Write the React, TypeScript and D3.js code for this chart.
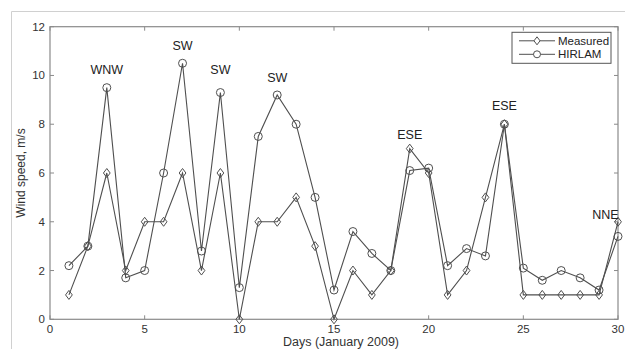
import { useEffect, useRef } from 'react';
import * as d3 from 'd3';

const days = d3.range(1, 31);
const measured = [1, 3, 6, 2, 4, 4, 6, 2, 6, 0, 4, 4, 5, 3, 0, 2, 1, 2, 7, 6, 1, 2, 5, 8, 1, 1, 1, 1, 1, 4];
const hirlam = [2.2, 3, 9.5, 1.7, 2, 6, 10.5, 2.8, 9.3, 1.3, 7.5, 9.2, 8, 5, 1.2, 3.6, 2.7, 2, 6.1, 6.2, 2.2, 2.9, 2.6, 8, 2.1, 1.6, 2, 1.7, 1.2, 3.4];
const xTicks = [0, 5, 10, 15, 20, 25, 30];
const yTicks = [0, 2, 4, 6, 8, 10, 12];

// wind direction labels: [day, y-value of text baseline, label]
const directions: [number, number, string][] = [
  [3, 10.08, 'WNW'],
  [7, 11.04, 'SW'],
  [9, 10.04, 'SW'],
  [12, 9.75, 'SW'],
  [19, 7.41, 'ESE'],
  [24, 8.6, 'ESE'],
  [29.34, 4.11, 'NNE'],
];

export default function App() {
  const svgRef = useRef<SVGSVGElement>(null);
  const width = 625;
  const height = 349;
  const margin = { top: 26.7, right: 7, bottom: 29.7, left: 50 };

  useEffect(() => {
    if (!svgRef.current) return;
    const svg = d3.select(svgRef.current);
    svg.selectAll('*').remove();

    const innerW = width - margin.left - margin.right;
    const innerH = height - margin.top - margin.bottom;
    const x = d3.scaleLinear().domain([0, 30]).range([0, innerW]);
    const y = d3.scaleLinear().domain([0, 12]).range([innerH, 0]);

    const font = 'Liberation Sans, Arial, sans-serif';
    const axisColor = '#8a8a8a';
    const lineColor = '#4f4f4f';

    // outer figure frame
    svg.append('path')
      .attr('d', `M11.5,${height} V11.5 H${width}`)
      .attr('fill', 'none')
      .attr('stroke', '#d0d0d0')
      .attr('stroke-width', 1);

    const g = svg.append('g').attr('transform', `translate(${margin.left},${margin.top})`);

    // plot box
    g.append('rect')
      .attr('width', innerW)
      .attr('height', innerH)
      .attr('fill', '#fff')
      .attr('stroke', axisColor)
      .attr('stroke-width', 1.2);

    // inward ticks on all sides
    const tl = 4;
    xTicks.forEach(t => {
      g.append('line').attr('x1', x(t)).attr('x2', x(t)).attr('y1', innerH).attr('y2', innerH - tl)
        .attr('stroke', axisColor);
      g.append('line').attr('x1', x(t)).attr('x2', x(t)).attr('y1', 0).attr('y2', tl)
        .attr('stroke', axisColor);
      g.append('text')
        .attr('x', x(t))
        .attr('y', innerH + 14)
        .attr('text-anchor', 'middle')
        .style('font-family', font)
        .style('font-size', '11.5px')
        .style('fill', '#333')
        .text(t);
    });
    yTicks.forEach(t => {
      g.append('line').attr('x1', 0).attr('x2', tl).attr('y1', y(t)).attr('y2', y(t))
        .attr('stroke', axisColor);
      g.append('line').attr('x1', innerW).attr('x2', innerW - tl).attr('y1', y(t)).attr('y2', y(t))
        .attr('stroke', axisColor);
      g.append('text')
        .attr('x', -5)
        .attr('y', y(t) + 4)
        .attr('text-anchor', 'end')
        .style('font-family', font)
        .style('font-size', '11.5px')
        .style('fill', '#333')
        .text(t);
    });

    // axis labels
    g.append('text')
      .attr('x', innerW / 2 + 7)
      .attr('y', innerH + 27)
      .attr('text-anchor', 'middle')
      .style('font-family', font)
      .style('font-size', '12.5px')
      .style('fill', '#333')
      .text('Days (January 2009)');
    g.append('text')
      .attr('transform', `translate(${-25},${innerH / 2}) rotate(-90)`)
      .attr('text-anchor', 'middle')
      .style('font-family', font)
      .style('font-size', '12px')
      .style('fill', '#333')
      .text('Wind speed, m/s');

    const line = d3.line<number>()
      .x((_, i) => x(days[i]))
      .y(d => y(d));

    const diamond = (cx: number, cy: number, r: number) =>
      `M${cx},${cy - r}L${cx + r * 0.75},${cy}L${cx},${cy + r}L${cx - r * 0.75},${cy}Z`;

    // HIRLAM series
    g.append('path')
      .datum(hirlam)
      .attr('fill', 'none')
      .attr('stroke', lineColor)
      .attr('stroke-width', 1.1)
      .attr('d', line);
    g.selectAll('.hir')
      .data(hirlam)
      .join('circle')
      .attr('class', 'hir')
      .attr('cx', (_, i) => x(days[i]))
      .attr('cy', d => y(d))
      .attr('r', 4)
      .attr('fill', 'none')
      .attr('stroke', lineColor)
      .attr('stroke-width', 1);

    // Measured series
    g.append('path')
      .datum(measured)
      .attr('fill', 'none')
      .attr('stroke', lineColor)
      .attr('stroke-width', 1.1)
      .attr('d', line);
    g.selectAll('.mea')
      .data(measured)
      .join('path')
      .attr('class', 'mea')
      .attr('d', (d, i) => diamond(x(days[i]), y(d), 4.5))
      .attr('fill', 'none')
      .attr('stroke', lineColor)
      .attr('stroke-width', 1);

    // direction labels
    directions.forEach(([d, v, label]) => {
      g.append('text')
        .attr('x', x(d))
        .attr('y', y(v))
        .attr('text-anchor', 'middle')
        .style('font-family', font)
        .style('font-size', '12.5px')
        .style('fill', '#222')
        .text(label);
    });

    // legend
    const lg = g.append('g').attr('transform', `translate(${512 - margin.left},${32.3 - margin.top})`);
    lg.append('rect')
      .attr('width', 99)
      .attr('height', 31)
      .attr('fill', '#fff')
      .attr('stroke', '#555')
      .attr('stroke-width', 1);
    const items = ['Measured', 'HIRLAM'];
    items.forEach((name, i) => {
      const ly = 8.5 + i * 13.5;
      lg.append('line')
        .attr('x1', 7).attr('x2', 43).attr('y1', ly).attr('y2', ly)
        .attr('stroke', lineColor);
      if (i === 0) {
        lg.append('path').attr('d', diamond(25, ly, 4)).attr('fill', '#fff').attr('stroke', lineColor);
      } else {
        lg.append('circle').attr('cx', 25).attr('cy', ly).attr('r', 3.5).attr('fill', '#fff').attr('stroke', lineColor);
      }
      lg.append('text')
        .attr('x', 46)
        .attr('y', ly + 4)
        .style('font-family', font)
        .style('font-size', '11.5px')
        .style('fill', '#222')
        .text(name);
    });
  }, []);

  return (
    <svg
      ref={svgRef}
      width={width}
      height={height}
      style={{ position: 'fixed', left: 0, top: 0, background: '#fff' }}
    />
  );
}
